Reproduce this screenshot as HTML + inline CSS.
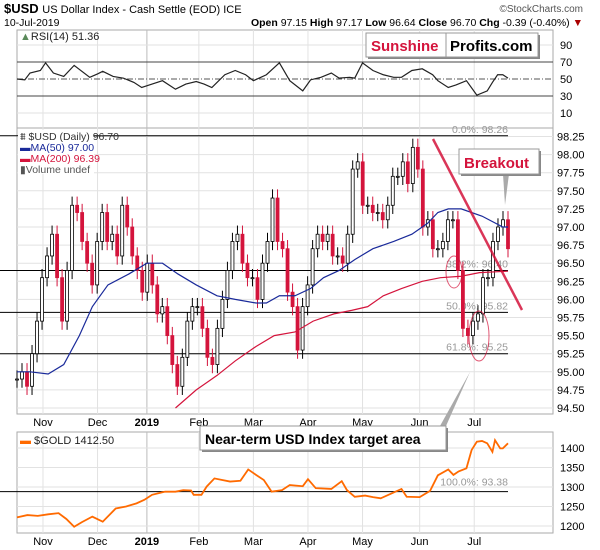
<!DOCTYPE html>
<html><head><meta charset="utf-8"><style>
body{margin:0;background:#fff}
svg{display:block;font-family:"Liberation Sans",sans-serif}
</style></head><body>
<svg id="c" width="600" height="550" viewBox="0 0 600 550">
<rect width="600" height="550" fill="#fff"/>
<text x="4" y="13" font-size="13" font-weight="bold">$USD <tspan font-weight="normal" font-size="11">US Dollar Index - Cash Settle (EOD) ICE</tspan></text>
<text x="583" y="12" font-size="10" fill="#555" text-anchor="end">©StockCharts.com</text>
<text x="4" y="26" font-size="10.5">10-Jul-2019</text>
<text x="583" y="26" font-size="10.5" text-anchor="end"><tspan font-weight="bold">Open</tspan> 97.15 <tspan font-weight="bold">High</tspan> 97.17 <tspan font-weight="bold">Low</tspan> 96.64 <tspan font-weight="bold">Close</tspan> 96.70 <tspan font-weight="bold">Chg</tspan> -0.39 (-0.40%) <tspan fill="#a00">▼</tspan></text>
<g id="grid"></g>
<g id="marks"></g>
<g id="ann"></g>
</svg>
<script>
// ---- data ----
const monthLabels = ["Nov","Dec","2019","Feb","Mar","Apr","May","Jun","Jul"];
const monthDay = [10,31,50,70,91,112,133,155,176];
const usdClose = [94.9,95.0,94.8,95.25,95.7,96.3,96.6,96.9,96.3,95.7,96.4,97.3,97.2,96.8,96.5,96.2,96.8,97.2,96.8,96.9,96.6,97.3,97.0,96.6,96.4,96.1,96.5,96.2,95.8,95.9,95.5,95.1,94.8,95.2,95.7,95.9,95.9,95.6,95.2,95.1,95.6,96.0,96.4,96.8,96.9,96.5,96.3,96.3,96.0,96.5,96.8,97.4,96.8,96.7,96.1,95.9,95.3,95.9,96.2,96.7,96.9,96.8,96.9,96.6,96.6,96.5,96.9,97.8,97.9,97.3,97.3,97.2,97.2,97.1,97.3,97.7,97.7,97.9,97.6,98.1,97.8,97.0,97.1,96.7,96.7,96.8,97.1,97.1,96.4,95.6,95.5,95.7,95.8,96.3,96.3,96.8,97.0,97.1,96.7];
const ma50Day = [0,5,12,18,24,29,35,43,50,56,62,69,77,84,92,96,101,107,113,118,124,130,137,145,152,158,162,166,171,179,187,189];
const ma50Val = [95.0,95.0,94.97,95.1,95.5,95.9,96.2,96.35,96.5,96.5,96.35,96.2,96.05,96.0,95.95,95.95,96.05,96.05,96.15,96.3,96.4,96.55,96.7,96.8,96.9,97.05,97.2,97.25,97.25,97.15,97.0,97.0];
const ma200Day = [61,69,77,84,92,99,107,114,122,129,135,141,148,156,163,171,178,189];
const ma200Val = [94.5,94.75,94.95,95.15,95.35,95.5,95.55,95.7,95.8,95.85,95.9,96.05,96.15,96.25,96.3,96.32,96.37,96.39];
const rsiDay = [0,3,5,9,11,14,18,22,28,31,33,37,41,45,48,52,56,61,65,69,72,75,80,84,88,91,96,101,105,110,113,117,121,124,128,130,133,137,141,145,148,152,156,160,162,166,169,173,177,181,183,185,187,189];
const rsiVal = [50,49,57,60,69,57,53,66,52,56,59,53,51,46,40,44,48,38,44,47,44,40,55,60,55,48,55,69,48,36,49,52,57,51,52,51,69,60,55,52,52,60,62,55,48,40,43,48,31,36,46,55,55,51];
const goldDay = [0,4,8,12,16,19,22,25,29,33,38,42,46,49,52,57,61,64,67,68,71,73,76,79,82,86,89,92,95,98,102,105,110,112,115,121,125,127,130,134,137,140,143,148,150,155,159,162,166,168,170,173,175,177,179,181,183,184,186,187,189];
const goldVal = [1222,1228,1226,1230,1233,1218,1198,1210,1224,1211,1245,1250,1258,1267,1280,1288,1288,1292,1291,1280,1280,1301,1322,1318,1314,1316,1345,1331,1318,1288,1292,1305,1302,1320,1297,1295,1315,1292,1275,1278,1274,1271,1280,1295,1275,1274,1290,1330,1345,1331,1340,1348,1395,1416,1418,1412,1390,1420,1399,1399,1412];
const usdTicks = [98.25,98.0,97.75,97.5,97.25,97.0,96.75,96.5,96.25,96.0,95.75,95.5,95.25,95.0,94.75,94.5];
const rsiTicks = [90,70,50,30,10];
const goldTicks = [1400,1350,1300,1250,1200];
const fibVals = [98.26,96.40,95.82,95.25];
const fibLabels = ["0.0%: 98.26","38.2%: 96.40","50.0%: 95.82","61.8%: 95.25"];

// ---- scales ----
const L=17,R=553,X1=508,LAST=189;
const xd=d=>L+d*(X1-L)/LAST;
const yU=v=>136.5+(98.25-v)*72.4;
const yR=v=>62+(70-v)*0.85;
const yG=v=>448-(v-1400)*0.39;
const NS="http://www.w3.org/2000/svg";
function mk(par,tag,attrs,name,txt){const e=document.createElementNS(NS,tag);for(const k in attrs)e.setAttribute(k,attrs[k]);


if(txt!==undefined)e.textContent=txt;document.getElementById(par).appendChild(e);return e;}

const panels=[[30,128],[128,414],[432,533]];
panels.forEach(p=>mk('grid','rect',{x:L,y:p[0],width:R-L,height:p[1]-p[0],fill:'none',stroke:'#aaa'},'panel-frame'));
monthDay.forEach((d,i)=>{const x=xd(d);
 panels.forEach(p=>mk('grid','line',{x1:x,x2:x,y1:p[0],y2:p[1],stroke:i==2?'#bbb':'#e2e2e2'},'month-gridline'));
 mk('grid','text',{x:x,y:426,'font-size':11,'text-anchor':'middle','font-weight':i==2?'bold':'normal'},'month-label',monthLabels[i]);
 mk('grid','text',{x:x,y:545,'font-size':11,'text-anchor':'middle','font-weight':i==2?'bold':'normal'},'month-label-bottom',monthLabels[i]);
});
usdTicks.forEach(v=>{mk('grid','line',{x1:L,x2:R,y1:yU(v),y2:yU(v),stroke:'#e2e2e2'},'usd-gridline');
 mk('grid','text',{x:557,y:yU(v)+4,'font-size':11},'usd-tick',v.toFixed(2));});
rsiTicks.forEach(v=>{mk('grid','line',{x1:L,x2:R,y1:yR(v),y2:yR(v),stroke:(v==70||v==30)?'#444':(v==50?'#555':'#e2e2e2'),'stroke-dasharray':v==50?'6,2,1,2':''},'rsi-gridline');
 mk('grid','text',{x:560,y:yR(v)+4,'font-size':11},'rsi-tick',v);});
goldTicks.forEach(v=>{mk('grid','line',{x1:L,x2:R,y1:yG(v),y2:yG(v),stroke:'#e2e2e2'},'gold-gridline');
 mk('grid','text',{x:560,y:yG(v)+4,'font-size':11},'gold-tick',v);});

fibVals.forEach((v,i)=>{mk('grid','line',{x1:0,x2:X1,y1:yU(v),y2:yU(v),stroke:'#000','stroke-width':1},'fib-line');
 mk('grid','text',{x:X1,y:yU(v)-3,'font-size':10.5,fill:'#999','text-anchor':'end'},'fib-label',fibLabels[i]);});
mk('grid','line',{x1:0,x2:X1,y1:yG(1288),y2:yG(1288),stroke:'#000'},'gold-fib-line');
mk('grid','text',{x:X1,y:yG(1288)-6,'font-size':10.5,fill:'#999','text-anchor':'end'},'gold-fib-label','100.0%: 93.38');

const n=usdClose.length;
usdClose.forEach((c,i)=>{const o=i?usdClose[i-1]:c;const x=xd(i*LAST/(n-1));const up=c>=o;const col=up?'#000':'#d4143c';
 mk('marks','line',{x1:x,x2:x,y1:yU(Math.max(o,c)+0.12),y2:yU(Math.min(o,c)-0.12),stroke:col},'candle-wick');
 mk('marks','rect',{x:x-1.5,y:yU(Math.max(o,c)),width:3,height:Math.max(1,Math.abs(yU(o)-yU(c))),fill:up?'#fff':col,stroke:col,'stroke-width':0.8},'candle-body');});
function line(days,vals,ys,col,name,w){mk('marks','polyline',{points:days.map((d,i)=>xd(d)+','+ys(vals[i])).join(' '),fill:'none',stroke:col,'stroke-width':w||1.2},name);}
line(ma50Day,ma50Val,yU,'#1a2a9a','ma50-line');
line(ma200Day,ma200Val,yU,'#d4143c','ma200-line');
line(rsiDay,rsiVal,yR,'#222','rsi-line');
line(goldDay,goldVal,yG,'#ff6a00','gold-line',1.8);
</script>
<script>
const a=document.getElementById('ann');
a.innerHTML=`
<rect x="18" y="130" width="76" height="44" fill="#fff"/>
<text x="20" y="140" font-size="10.5" fill="#333">⩩ $USD (Daily) 96.70</text>
<text x="20" y="151" font-size="10.5" fill="#1a2a9a">▬MA(50) 97.00</text>
<text x="20" y="162" font-size="10.5" fill="#d4143c">▬MA(200) 96.39</text>
<text x="20" y="173" font-size="10.5" fill="#555">▮Volume undef</text>
<text x="20" y="40" font-size="11" fill="#222"><tspan fill="#5a8a5a">▲</tspan>RSI(14) 51.36</text>
<text x="20" y="444" font-size="11" fill="#222"><tspan fill="#ff6a00" font-weight="bold">▬</tspan> $GOLD 1412.50</text>
<line x1="433" y1="139" x2="522" y2="310" stroke="#d4143c" stroke-width="2.5" opacity="0.85"/>
<ellipse cx="454" cy="272" rx="8" ry="16" fill="none" stroke="#d4143c" opacity="0.7"/>
<ellipse cx="479" cy="336" rx="10" ry="25" fill="none" stroke="#d4143c" opacity="0.7"/>
<rect x="368" y="35" width="172" height="24" fill="#888"/>
<rect x="366" y="33" width="172" height="24" fill="#fff" stroke="#999"/>
<line x1="446" y1="33" x2="446" y2="57" stroke="#999"/>
<text x="371" y="51" font-size="15" font-weight="bold" fill="#d4143c">Sunshine</text>
<text x="450" y="51" font-size="15" font-weight="bold" fill="#000">Profits.com</text>
<polygon points="503,174 509,174 505,205" fill="#aaa"/>
<rect x="461" y="151" width="80" height="25" fill="#888"/>
<rect x="459" y="149" width="80" height="25" fill="#fff" stroke="#999"/>
<text x="464" y="168" font-size="15" font-weight="bold" fill="#d4143c">Breakout</text>
<polygon points="440,426 446,426 470,372" fill="#aaa"/>
<rect x="202" y="428" width="246" height="24" fill="#888"/>
<rect x="200" y="426" width="246" height="24" fill="#fff" stroke="#999"/>
<text x="205" y="444" font-size="14" font-weight="bold" fill="#000">Near-term USD Index target area</text>`;
a.querySelectorAll('*').forEach(e=>{});
</script>
</body></html>
